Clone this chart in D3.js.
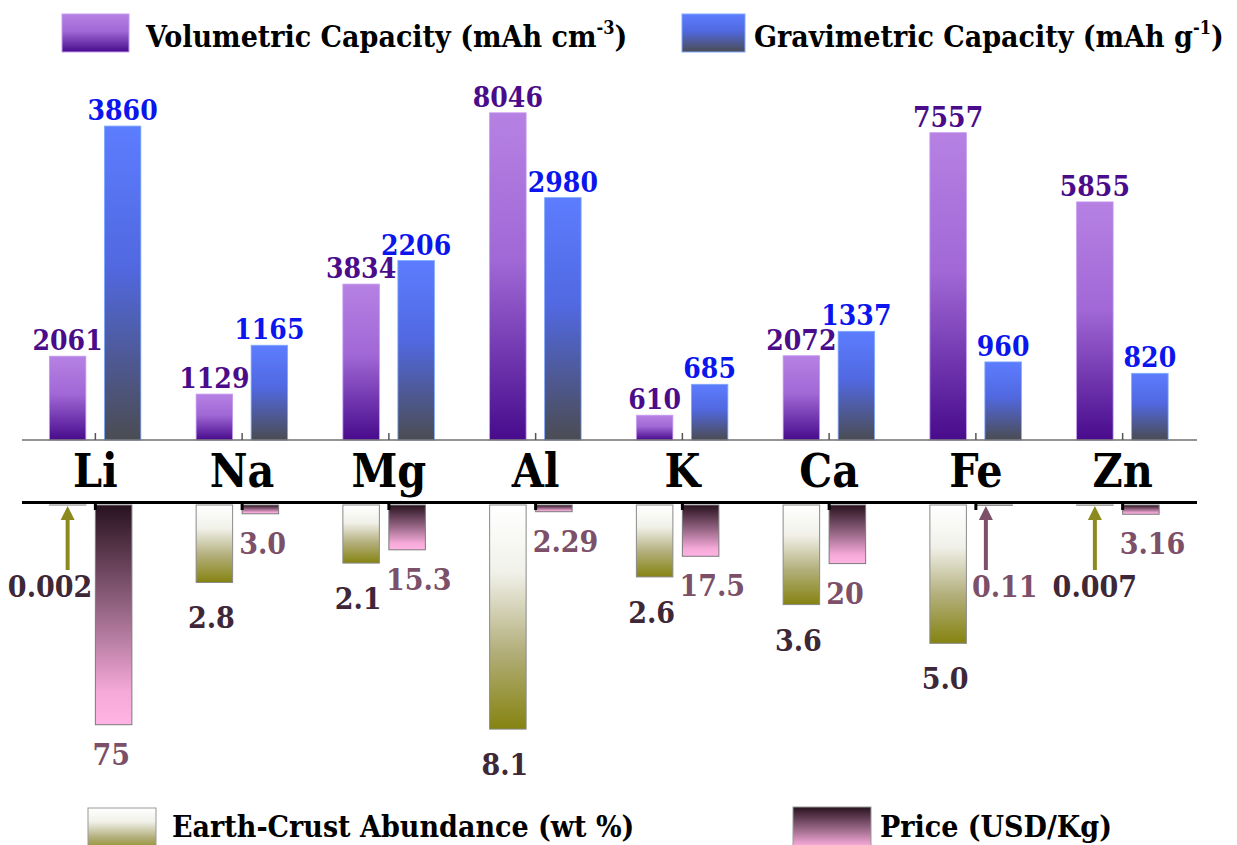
<!DOCTYPE html>
<html>
<head>
<meta charset="utf-8">
<script src="https://cdn.jsdelivr.net/npm/d3@7"></script>
<style>
	body { margin: 0; background: #fff; }
</style>
</head>
<body>
<svg id="chart" width="1237" height="845"></svg>
<script>
'use strict'

const elements = ['Li', 'Na', 'Mg', 'Al', 'K', 'Ca', 'Fe', 'Zn']
const volumetric = [2061, 1129, 3834, 8046, 610, 2072, 7557, 5855]
const gravimetric = [3860, 1165, 2206, 2980, 685, 1337, 960, 820]
const abundance = [0.002, 2.8, 2.1, 8.1, 2.6, 3.6, 5.0, 0.007]
const abundanceText = ['0.002', '2.8', '2.1', '8.1', '2.6', '3.6', '5.0', '0.007']
const price = [75, 3.0, 15.3, 2.29, 17.5, 20, 0.11, 3.16]
const priceText = ['75', '3.0', '15.3', '2.29', '17.5', '20', '0.11', '3.16']

const serif = 'DejaVu Serif Condensed, DejaVu Serif, serif'

const svg = d3.select('#chart')
	.attr('font-family', serif)
	.attr('font-weight', 'bold')
const defs = svg.append('defs')

const gradients = {
	vol: [['0', '#b681e3'], ['0.45', '#a168d6'], ['1', '#470b8c']],
	grav: [['0', '#5c7dff'], ['0.45', '#5168e0'], ['1', '#4b4c52']],
	abund: [['0', '#ffffff'], ['0.3', '#f1f1ea'], ['0.65', '#b3af7c'], ['1', '#858310']],
	price: [['0', '#28121f'], ['0.5', '#9c6a8a'], ['0.85', '#f5a9d8'], ['1', '#ffb4e4']]
}

Object.keys(gradients).forEach((key) => {
	const g = defs.append('linearGradient')
		.attr('id', 'grad-' + key)
		.attr('x1', 0).attr('y1', 0).attr('x2', 0).attr('y2', 1)
	gradients[key].forEach((s) => {
		g.append('stop').attr('offset', s[0]).attr('stop-color', s[1])
	})
})

const x = d3.scaleBand().domain(elements).range([22, 1196])
const bw = x.bandwidth()
const barW = 36.5
const center = (d) => x(d) + bw / 2

// upper panel
const topBase = 440
const yVol = d3.scaleLinear().domain([0, 9000]).range([topBase, 74])
const yGrav = d3.scaleLinear().domain([0, 4500]).range([topBase, 74])

// lower panel
const botBase = 505
const yAbund = d3.scaleLinear().domain([0, 9]).range([botBase, botBase + 249])
const yPrice = d3.scaleLinear().domain([0, 85]).range([botBase, botBase + 249])

const volX = (d) => center(d) - 46
const gravX = (d) => center(d) + 9
const priceX = (d) => center(d)

const upper = svg.append('g')

upper.selectAll('.vol')
	.data(elements)
	.enter()
	.append('rect')
	.attr('class', 'vol')
	.attr('x', volX)
	.attr('y', (d, i) => yVol(volumetric[i]))
	.attr('width', barW)
	.attr('height', (d, i) => topBase - yVol(volumetric[i]))
	.style('fill', 'url(#grad-vol)')
	.style('stroke', '#c79af0')
	.style('stroke-width', 0.8)

upper.selectAll('.grav')
	.data(elements)
	.enter()
	.append('rect')
	.attr('class', 'grav')
	.attr('x', gravX)
	.attr('y', (d, i) => yGrav(gravimetric[i]))
	.attr('width', barW)
	.attr('height', (d, i) => topBase - yGrav(gravimetric[i]))
	.style('fill', 'url(#grad-grav)')
	.style('stroke', '#7eaaff')
	.style('stroke-width', 0.8)

upper.selectAll('.volLabel')
	.data(elements)
	.enter()
	.append('text')
	.attr('x', (d) => volX(d) + barW / 2)
	.attr('y', (d, i) => yVol(volumetric[i]) - 6)
	.attr('text-anchor', 'middle')
	.style('font-size', '28px')
	.style('fill', '#4a0c8a')
	.text((d, i) => volumetric[i])

upper.selectAll('.gravLabel')
	.data(elements)
	.enter()
	.append('text')
	.attr('x', (d) => gravX(d) + barW / 2)
	.attr('y', (d, i) => yGrav(gravimetric[i]) - 6)
	.attr('text-anchor', 'middle')
	.style('font-size', '28px')
	.style('fill', '#0b15ee')
	.text((d, i) => gravimetric[i])

upper.append('line')
	.attr('x1', 22).attr('x2', 1197)
	.attr('y1', topBase).attr('y2', topBase)
	.style('stroke', '#707070')
	.style('stroke-width', 1.5)

upper.selectAll('.tick')
	.data(elements)
	.enter()
	.append('line')
	.attr('x1', center).attr('x2', center)
	.attr('y1', topBase - 7).attr('y2', topBase)
	.style('stroke', '#555')
	.style('stroke-width', 1.5)

upper.selectAll('.cat')
	.data(elements)
	.enter()
	.append('text')
	.attr('x', center)
	.attr('y', 487)
	.attr('text-anchor', 'middle')
	.style('font-size', '46px')
	.style('fill', '#000')
	.text((d) => d)

const lower = svg.append('g')

lower.selectAll('.abund')
	.data(elements)
	.enter()
	.append('rect')
	.attr('x', volX)
	.attr('y', botBase)
	.attr('width', barW)
	.attr('height', (d, i) => yAbund(abundance[i]) - botBase)
	.style('fill', 'url(#grad-abund)')
	.style('stroke', '#8a8a8a')
	.style('stroke-width', 1)

lower.selectAll('.price')
	.data(elements)
	.enter()
	.append('rect')
	.attr('x', priceX)
	.attr('y', botBase)
	.attr('width', barW)
	.attr('height', (d, i) => yPrice(price[i]) - botBase)
	.style('fill', 'url(#grad-price)')
	.style('stroke', '#7a7a7a')
	.style('stroke-width', 1)

lower.append('line')
	.attr('x1', 22).attr('x2', 1197)
	.attr('y1', botBase - 2.5).attr('y2', botBase - 2.5)
	.style('stroke', '#000')
	.style('stroke-width', 3)

lower.selectAll('.tick')
	.data(elements)
	.enter()
	.append('line')
	.attr('x1', center).attr('x2', center)
	.attr('y1', botBase - 2).attr('y2', botBase + 5)
	.style('stroke', '#000')
	.style('stroke-width', 3)

// values too small to see get an arrow instead of a bar
const tiny = 1.5
const arrowTop = botBase + 1
const arrowBottom = 570

function drawArrow(cx, color) {
	lower.append('line')
		.attr('x1', cx).attr('x2', cx)
		.attr('y1', arrowTop + 12).attr('y2', arrowBottom)
		.style('stroke', color)
		.style('stroke-width', 4)
	lower.append('path')
		.attr('d', `M${cx - 7},${arrowTop + 14}L${cx},${arrowTop}L${cx + 7},${arrowTop + 14}Z`)
		.style('fill', color)
}

const abundColor = '#3e2737'
const priceColor = '#7b5068'

elements.forEach((d, i) => {
	const h = yAbund(abundance[i]) - botBase
	const cx = volX(d) + barW / 2
	if (h < tiny) {
		drawArrow(cx, '#8c8a1e')
		// keep the label clear of a tall neighbouring price bar
		const blocked = yPrice(price[i]) > 575
		lower.append('text')
			.attr('x', blocked ? priceX(d) - 3 : cx)
			.attr('y', 597)
			.attr('text-anchor', blocked ? 'end' : 'middle')
			.style('font-size', '30px')
			.style('fill', abundColor)
			.text(abundanceText[i])
	} else {
		lower.append('text')
			.attr('x', cx - 3)
			.attr('y', yAbund(abundance[i]) + 46)
			.attr('text-anchor', 'middle')
			.style('font-size', '30px')
			.style('fill', abundColor)
			.text(abundanceText[i])
	}

	const hp = yPrice(price[i]) - botBase
	if (hp < tiny) {
		drawArrow(priceX(d) + 10, priceColor)
		lower.append('text')
			.attr('x', priceX(d) - 4)
			.attr('y', 597)
			.attr('text-anchor', 'start')
			.style('font-size', '30px')
			.style('fill', priceColor)
			.text(priceText[i])
	} else {
		lower.append('text')
			.attr('x', priceX(d) - 3)
			.attr('y', yPrice(price[i]) + 40)
			.attr('text-anchor', 'start')
			.style('font-size', '30px')
			.style('fill', priceColor)
			.text(priceText[i])
	}
})

// legends
function legendItem(sx, sy, sw, sh, grad, stroke, tx, ty, size, parts) {
	svg.append('rect')
		.attr('x', sx).attr('y', sy)
		.attr('width', sw).attr('height', sh)
		.style('fill', `url(#grad-${grad})`)
		.style('stroke', stroke)
		.style('stroke-width', 1)
	const t = svg.append('text')
		.attr('x', tx).attr('y', ty)
		.style('font-size', size + 'px')
		.style('fill', '#000')
	parts.forEach((p) => {
		const span = t.append('tspan').text(p.text)
		if (p.sup) {
			span.attr('dy', -13).style('font-size', (size * 0.6) + 'px')
		} else if (p.after) {
			span.attr('dy', 13)
		}
	})
}

legendItem(62, 14, 67, 38, 'vol', '#c79af0', 146, 47, 30, [
	{text: 'Volumetric Capacity (mAh cm'}, {text: '-3', sup: true}, {text: ')', after: true}
])
legendItem(682, 14, 63, 38, 'grav', '#7eaaff', 754, 47, 30, [
	{text: 'Gravimetric Capacity (mAh g'}, {text: '-1', sup: true}, {text: ')', after: true}
])
legendItem(88, 808, 68, 45, 'abund', '#999', 172, 837, 30, [
	{text: 'Earth-Crust Abundance (wt %)'}
])
legendItem(793, 807, 78, 45, 'price', '#999', 880, 837, 30, [
	{text: 'Price (USD/Kg)'}
])
</script>
</body>
</html>
